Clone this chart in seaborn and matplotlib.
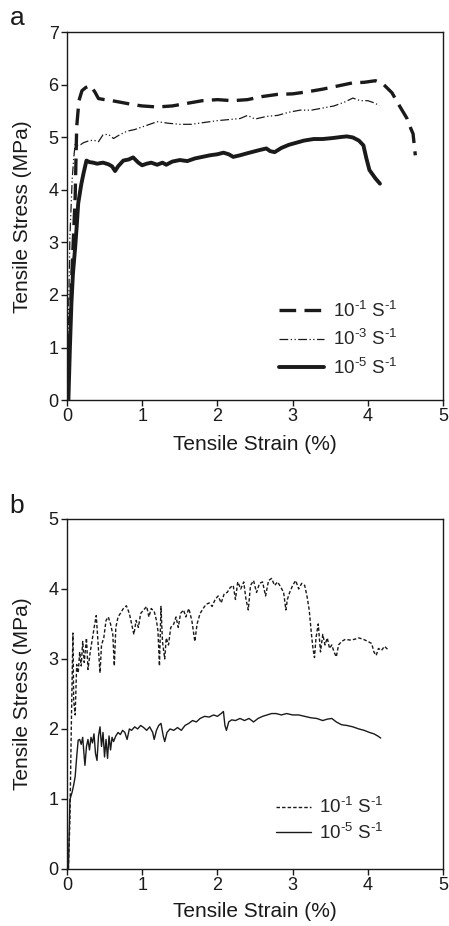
import numpy as np
import pandas as pd
import matplotlib
matplotlib.use("Agg")
import matplotlib.pyplot as plt
import seaborn as sns

# --- data: (a) three strain rates, (b) two strain rates ---
a_fast_x = [0.00, 0.03, 0.06, 0.09, 0.11, 0.13, 0.16, 0.20, 0.25, 0.31, 0.37, 0.42, 0.50, 0.60,
            0.75, 0.90, 1.00, 1.20, 1.40, 1.60, 1.80, 2.00, 2.20, 2.40, 2.60, 2.80, 3.00, 3.20,
            3.40, 3.60, 3.80, 3.95, 4.10, 4.20, 4.32, 4.42, 4.52, 4.57, 4.60, 4.63]
a_fast_y = [0.00, 1.00, 2.20, 3.20, 3.87, 5.20, 5.70, 5.89, 5.95, 5.99, 5.87, 5.74, 5.72, 5.70,
            5.66, 5.62, 5.60, 5.58, 5.60, 5.65, 5.70, 5.72, 5.70, 5.72, 5.78, 5.82, 5.83, 5.87,
            5.92, 5.98, 6.04, 6.05, 6.08, 6.02, 5.85, 5.60, 5.36, 5.17, 5.07, 4.66]

a_mid_x = [0.00, 0.02, 0.04, 0.07, 0.09, 0.11, 0.14, 0.17, 0.22, 0.28, 0.35, 0.42, 0.48, 0.55,
           0.62, 0.70, 0.80, 0.90, 1.00, 1.10, 1.20, 1.35, 1.50, 1.65, 1.80, 2.00, 2.15, 2.30,
           2.40, 2.50, 2.65, 2.80, 2.95, 3.10, 3.25, 3.40, 3.55, 3.70, 3.80, 3.90, 4.00, 4.10, 4.15]
a_mid_y = [0.00, 1.50, 3.10, 4.20, 4.60, 4.88, 4.85, 4.85, 4.90, 4.93, 4.95, 4.92, 5.05, 5.06,
           4.98, 5.05, 5.12, 5.15, 5.20, 5.25, 5.30, 5.27, 5.25, 5.25, 5.28, 5.32, 5.34, 5.36,
           5.42, 5.35, 5.40, 5.42, 5.48, 5.52, 5.52, 5.56, 5.60, 5.68, 5.75, 5.70, 5.70, 5.65, 5.60]

a_slow_x = [0.00, 0.02, 0.04, 0.06, 0.08, 0.11, 0.13, 0.15, 0.19, 0.22, 0.26, 0.30, 0.35, 0.40,
            0.48, 0.55, 0.60, 0.64, 0.68, 0.75, 0.82, 0.88, 0.95, 1.00, 1.06, 1.12, 1.20, 1.27,
            1.32, 1.40, 1.50, 1.60, 1.70, 1.80, 1.90, 2.00, 2.08, 2.15, 2.21, 2.30, 2.40, 2.48,
            2.56, 2.65, 2.70, 2.76, 2.85, 2.95, 3.05, 3.15, 3.28, 3.40, 3.54, 3.65, 3.72, 3.80,
            3.88, 3.94, 3.98, 4.02, 4.06, 4.10, 4.16]
a_slow_y = [0.00, 0.00, 1.00, 1.84, 2.40, 2.91, 3.30, 3.74, 4.10, 4.31, 4.56, 4.53, 4.52, 4.50,
            4.52, 4.49, 4.45, 4.36, 4.45, 4.56, 4.58, 4.62, 4.52, 4.47, 4.50, 4.52, 4.48, 4.52,
            4.48, 4.54, 4.57, 4.55, 4.60, 4.63, 4.66, 4.68, 4.71, 4.68, 4.63, 4.66, 4.70, 4.73,
            4.76, 4.79, 4.74, 4.72, 4.80, 4.86, 4.90, 4.94, 4.97, 4.97, 4.99, 5.01, 5.02, 5.00,
            4.94, 4.85, 4.60, 4.38, 4.30, 4.22, 4.12]

b_fast_x = [0.02, 0.04, 0.06, 0.08, 0.09, 0.11, 0.13, 0.15, 0.17, 0.19, 0.21, 0.23, 0.26, 0.28,
            0.31, 0.34, 0.37, 0.39, 0.41, 0.44, 0.46, 0.49, 0.52, 0.55, 0.58, 0.61, 0.63, 0.65,
            0.68, 0.71, 0.75, 0.79, 0.83, 0.86, 0.89, 0.92, 0.95, 0.98, 1.02, 1.06, 1.09, 1.12,
            1.16, 1.19, 1.21, 1.23, 1.25, 1.27, 1.30, 1.32, 1.35, 1.38, 1.42, 1.45, 1.48, 1.51,
            1.55, 1.58, 1.62, 1.66, 1.70, 1.73, 1.77, 1.81, 1.85, 1.89, 1.93, 1.97, 2.01, 2.05,
            2.09, 2.13, 2.17, 2.21, 2.24, 2.27, 2.31, 2.35, 2.38, 2.41, 2.44, 2.48, 2.52, 2.56,
            2.60, 2.64, 2.68, 2.72, 2.76, 2.80, 2.84, 2.88, 2.91, 2.93, 2.96, 3.00, 3.04, 3.08,
            3.12, 3.16, 3.19, 3.22, 3.25, 3.27, 3.29, 3.31, 3.34, 3.37, 3.40, 3.43, 3.46, 3.49,
            3.52, 3.55, 3.58, 3.61, 3.65, 3.70, 3.76, 3.82, 3.88, 3.94, 4.00, 4.05, 4.08, 4.11,
            4.14, 4.18, 4.22, 4.26]
b_fast_y = [0.00, 0.70, 2.13, 3.37, 2.40, 2.20, 2.92, 2.80, 3.10, 2.90, 3.25, 2.95, 3.30, 2.85,
            3.10, 3.30, 3.50, 3.62, 3.30, 2.80, 3.20, 3.30, 3.55, 3.60, 3.50, 3.35, 2.90, 3.45,
            3.60, 3.65, 3.72, 3.76, 3.65, 3.50, 3.35, 3.55, 3.45, 3.65, 3.70, 3.75, 3.60, 3.72,
            3.68, 3.55, 3.40, 2.90, 3.75, 3.25, 3.00, 3.30, 3.20, 3.45, 3.50, 3.60, 3.45, 3.65,
            3.70, 3.60, 3.72, 3.55, 3.25, 3.50, 3.65, 3.72, 3.78, 3.80, 3.75, 3.85, 3.90, 3.80,
            3.93, 3.95, 4.02, 4.05, 3.85, 4.10, 4.00, 4.10, 3.85, 3.70, 4.05, 4.12, 3.95, 4.08,
            4.10, 3.90, 4.12, 4.15, 4.05, 4.10, 4.03, 3.95, 3.70, 3.85, 3.95, 4.05, 4.12, 4.00,
            4.08, 4.05, 3.90, 3.70, 3.35, 3.15, 3.02, 3.30, 3.50, 3.10, 3.35, 3.20, 3.30, 3.15,
            3.20, 3.10, 3.03, 3.20, 3.25, 3.28, 3.27, 3.28, 3.30, 3.28, 3.25, 3.22, 3.10, 3.05,
            3.15, 3.12, 3.18, 3.14]

b_slow_x = [0.02, 0.04, 0.07, 0.09, 0.11, 0.13, 0.15, 0.17, 0.19, 0.21, 0.23, 0.24, 0.26, 0.28,
            0.30, 0.32, 0.34, 0.36, 0.38, 0.40, 0.42, 0.44, 0.46, 0.48, 0.50, 0.52, 0.54, 0.56,
            0.58, 0.60, 0.62, 0.65, 0.68, 0.71, 0.74, 0.77, 0.80, 0.83, 0.86, 0.90, 0.94, 0.98,
            1.02, 1.06, 1.10, 1.14, 1.16, 1.19, 1.22, 1.25, 1.28, 1.30, 1.33, 1.37, 1.42, 1.47,
            1.52, 1.57, 1.62, 1.67, 1.72, 1.77, 1.83, 1.89, 1.95, 2.00, 2.05, 2.08, 2.10, 2.12,
            2.15, 2.19, 2.24, 2.30, 2.36, 2.42, 2.48, 2.54, 2.60, 2.66, 2.72, 2.78, 2.85, 2.92,
            3.00, 3.08, 3.16, 3.24, 3.32, 3.40, 3.46, 3.52, 3.58, 3.65, 3.72, 3.80, 3.88, 3.95,
            4.02, 4.08, 4.13, 4.17]
b_slow_y = [0.00, 0.99, 1.10, 1.20, 1.32, 1.60, 1.84, 1.85, 1.78, 1.88, 1.60, 1.48, 1.75, 1.85,
            1.70, 1.88, 1.80, 1.93, 1.65, 1.55, 1.90, 2.03, 1.75, 1.95, 1.60, 1.85, 1.58, 1.90,
            1.70, 1.88, 1.82, 1.90, 1.95, 1.92, 1.98, 1.95, 1.85, 2.00, 1.98, 2.03, 2.00, 2.05,
            2.02, 1.98, 2.03, 1.95, 1.85, 1.98, 2.05, 2.08, 1.90, 1.82, 1.95, 2.00, 1.98, 2.02,
            1.98, 2.05, 2.08, 2.12, 2.10, 2.15, 2.18, 2.17, 2.20, 2.18, 2.22, 2.25, 2.05, 1.98,
            2.10, 2.13, 2.12, 2.15, 2.12, 2.15, 2.10, 2.15, 2.18, 2.20, 2.22, 2.22, 2.20, 2.22,
            2.20, 2.20, 2.18, 2.16, 2.15, 2.12, 2.14, 2.15, 2.10, 2.06, 2.05, 2.03, 2.00, 1.98,
            1.95, 1.93, 1.90, 1.87]

# superscripts drawn with a plain hyphen, as in the original
rate_fast = r"10$^{\text{-1}}$ S$^{\text{-1}}$"
rate_mid = r"10$^{\text{-3}}$ S$^{\text{-1}}$"
rate_slow = r"10$^{\text{-5}}$ S$^{\text{-1}}$"

sns.set_theme(style="ticks")
plt.rcParams["font.family"] = ["Liberation Sans", "DejaVu Sans"]
plt.rcParams["mathtext.fontset"] = "custom"
plt.rcParams["mathtext.rm"] = "Liberation Sans"
plt.rcParams["mathtext.it"] = "Liberation Sans"
plt.rcParams["mathtext.default"] = "rm"

ink = "#1a1a1a"
fig = plt.figure(figsize=(4.49, 9.26), dpi=100)
ax_a = fig.add_axes([0.149, 0.568, 0.838, 0.397])
ax_b = fig.add_axes([0.149, 0.0616, 0.838, 0.378])


def curve(ax, xs, ys, label, lw, dashes):
    d = pd.DataFrame({"strain": xs, "stress": ys})
    sns.lineplot(data=d, x="strain", y="stress", ax=ax, sort=False, estimator=None,
                 color=ink, linewidth=lw, label=label, dashes=False)
    line = ax.get_lines()[-1]
    if dashes is not None:
        line.set_dashes(dashes)


# (a)
curve(ax_a, a_fast_x, a_fast_y, rate_fast, 2.4, (5, 2.5))
curve(ax_a, a_mid_x, a_mid_y, rate_mid, 0.9, (7, 2, 1, 2, 1, 2))
curve(ax_a, a_slow_x, a_slow_y, rate_slow, 2.8, None)
# (b)
curve(ax_b, b_fast_x, b_fast_y, rate_fast, 1.0, (2.5, 1.5))
curve(ax_b, b_slow_x, b_slow_y, rate_slow, 1.0, None)

for ax, ytop in ((ax_a, 7), (ax_b, 5)):
    ax.set_xlim(0, 5)
    ax.set_ylim(0, ytop)
    ax.set_xticks(range(0, 6))
    ax.set_yticks(range(0, ytop + 1))
    ax.tick_params(direction="out", length=4, width=1, colors=ink, labelsize=13, pad=2)
    for s in ax.spines.values():
        s.set_color(ink)
        s.set_linewidth(1.0)
    ax.set_xlabel("Tensile Strain (%)", fontsize=15, color=ink)
    ax.set_ylabel("Tensile Stress (MPa)", fontsize=15, color=ink)
    ax.yaxis.set_label_coords(-0.093, 0.5)
    ax.set_facecolor("white")

ax_a.xaxis.set_label_coords(0.5, -0.095)
ax_b.xaxis.set_label_coords(0.5, -0.095)

ax_a.legend(loc="center left", bbox_to_anchor=(0.53, 0.165), frameon=False, fontsize=13.5,
            handlelength=2.4, handletextpad=0.45, labelspacing=0.45, borderpad=0.2)
ax_b.legend(loc="center left", bbox_to_anchor=(0.52, 0.14), frameon=False, fontsize=13.5,
            handlelength=1.9, handletextpad=0.4, labelspacing=0.3, borderpad=0.2)

fig.text(0.038, 0.973, "a", fontsize=19, color=ink, ha="center", va="baseline")
fig.text(0.038, 0.446, "b", fontsize=19, color=ink, ha="center", va="baseline")

fig.savefig("out.png", dpi=100, facecolor="white")
